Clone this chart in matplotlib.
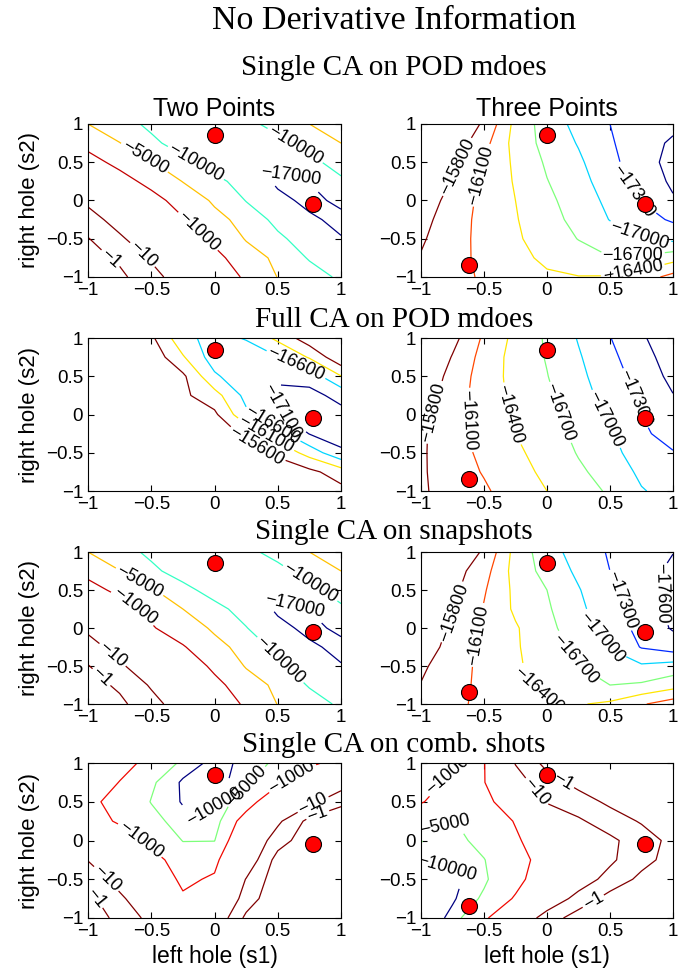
import numpy as np
import matplotlib
matplotlib.use("Agg")
import matplotlib.pyplot as plt
from matplotlib.colors import Normalize

plt.rcParams['font.family'] = ['Liberation Sans', 'DejaVu Sans']

#%% grid the objective was sampled on (rows go from top y=1 to bottom y=-1)
grid_x = [-1, -0.75, -0.5, -0.25, 0, 0.25, 0.5, 0.75, 1]
grid_y = [1, 0.75, 0.5, 0.25, 0, -0.25, -0.5, -0.75, -1]

ticks = [-1, -0.5, 0, 0.5, 1]
tick_labels = ['\u22121', '\u22120.5', '0', '0.5', '1']

main_title = 'No Derivative Information'
row_titles = ['Single CA on POD mdoes', 'Full CA on POD mdoes',
              'Single CA on snapshots', 'Single CA on comb. shots']
col_titles = ['Two Points', 'Three Points']

two_pts_x = [0, 0.78]
two_pts_y = [0.85, -0.05]
three_pts_x = [0, 0.78, -0.62]
three_pts_y = [0.85, -0.05, -0.84]

levels_single = [-17000, -10000, -5000, -1000, -10, -1]
levels_comb = [-10000, -5000, -1000, -10, -1]
levels_three = [-17600, -17300, -17000, -16700, -16400, -16100, -15800]
levels_full_two = [-17100, -16600, -16100, -15600]

#%% objective values
z_pod_two = [
    [-5000, -8100, -11200, -14000, -14800, -11700, -8100, -5000, -3200],
    [-1740, -4900, -8900, -12600, -15500, -14800, -12000, -7900, -5000],
    [-500, -1700, -4800, -8700, -12600, -15000, -15800, -11700, -7900],
    [-93, -470, -1800, -5200, -8700, -12300, -18500, -16800, -11000],
    [-16, -89, -500, -2200, -6000, -10200, -15000, -19000, -15500],
    [-4, -25, -145, -870, -3500, -7400, -11500, -15800, -19000],
    [-0.9, -7, -46, -275, -1500, -5500, -9100, -12600, -16600],
    [-0.4, -1.5, -13, -87, -590, -2700, -6600, -10500, -13200],
    [-0.16, -0.6, -4.5, -34, -230, -1400, -5200, -7800, -11000]]

z_pod_three = [
    [-15400, -15600, -15830, -16490, -16840, -17090, -17300, -17420, -17520],
    [-15350, -15600, -16000, -16510, -16800, -17020, -17270, -17460, -17650],
    [-15300, -15700, -16100, -16460, -16740, -16950, -17220, -17470, -17700],
    [-15400, -15830, -16150, -16430, -16690, -16890, -17160, -17420, -17650],
    [-15600, -15920, -16180, -16400, -16630, -16850, -17070, -17310, -17570],
    [-15700, -15960, -16190, -16380, -16590, -16790, -17010, -17180, -17340],
    [-15760, -15990, -16180, -16360, -16530, -16710, -16840, -16970, -17080],
    [-15820, -16000, -16170, -16300, -16470, -16570, -16690, -16660, -16520],
    [-15880, -16000, -16140, -16260, -16350, -16390, -16380, -16250, -16000]]

z_full_two = [
    [-14800, -15050, -15500, -16450, -16780, -16560, -15980, -15300, -14900],
    [-14600, -14900, -15250, -16050, -16850, -16900, -16620, -16050, -15200],
    [-14500, -14800, -15150, -15500, -16520, -16950, -17060, -16900, -16120],
    [-14400, -14700, -15000, -15500, -15900, -16750, -17150, -17250, -16950],
    [-14300, -14600, -14900, -15200, -15500, -16500, -17050, -17350, -17250],
    [-14200, -14500, -14750, -15000, -15300, -15700, -16400, -17120, -17350],
    [-14100, -14400, -14650, -14900, -15150, -15400, -15700, -16300, -17000],
    [-14000, -14300, -14550, -14800, -15000, -15200, -15300, -15470, -15850],
    [-13900, -14200, -14450, -14700, -14900, -15050, -15200, -15320, -15450]]

z_full_three = [
    [-15350, -15700, -16150, -16480, -16740, -17020, -17290, -17560, -17800],
    [-15400, -15820, -16210, -16510, -16720, -16970, -17230, -17480, -17750],
    [-15550, -15900, -16240, -16500, -16690, -16930, -17170, -17420, -17680],
    [-15620, -15950, -16240, -16480, -16650, -16880, -17120, -17360, -17590],
    [-15700, -15980, -16230, -16440, -16610, -16820, -17060, -17300, -17520],
    [-15750, -15990, -16200, -16400, -16570, -16770, -16960, -17240, -17430],
    [-15760, -15970, -16170, -16350, -16510, -16720, -16930, -17110, -17280],
    [-15760, -15960, -16120, -16300, -16460, -16650, -16820, -17060, -17200],
    [-15760, -15920, -16060, -16240, -16400, -16570, -16740, -16980, -17100]]

z_snap_two = [
    [-5000, -8100, -11200, -14000, -14800, -11700, -8100, -5000, -3200],
    [-1740, -4900, -8900, -12600, -15500, -14800, -12000, -7800, -5000],
    [-500, -1600, -4600, -8500, -12400, -15000, -15600, -11700, -7900],
    [-93, -420, -1600, -5000, -8500, -12300, -18300, -16800, -11000],
    [-16, -80, -850, -2600, -6000, -9800, -15000, -19000, -15500],
    [-4, -25, -145, -870, -3500, -7400, -11500, -15800, -19000],
    [-0.9, -7, -46, -275, -1500, -5500, -9100, -12600, -16600],
    [-0.4, -1.5, -13, -87, -590, -2700, -6600, -10500, -13200],
    [-0.16, -0.6, -4.5, -34, -230, -1400, -5200, -7800, -11000]]

z_snap_three = [
    [-15400, -15600, -15830, -16510, -16870, -17130, -17330, -17460, -17590],
    [-15380, -15660, -15980, -16520, -16800, -17060, -17300, -17450, -17680],
    [-15400, -15720, -16070, -16470, -16700, -16980, -17250, -17450, -17700],
    [-15450, -15760, -16120, -16450, -16660, -16930, -17200, -17420, -17680],
    [-15550, -15860, -16150, -16370, -16620, -16860, -17120, -17400, -17630],
    [-15650, -15900, -16170, -16370, -16560, -16780, -17010, -17320, -17450],
    [-15750, -15960, -16180, -16360, -16520, -16690, -16920, -16960, -16880],
    [-15810, -16000, -16170, -16330, -16460, -16600, -16700, -16660, -16520],
    [-15870, -16040, -16160, -16280, -16370, -16420, -16350, -16130, -15950]]

z_comb_two = [
    [-400, -560, -1600, -6500, -12600, -8500, -4000, -1500, -500],
    [-320, -1050, -4300, -11200, -14100, -6300, -1450, -200, -40],
    [-630, -1950, -5200, -10700, -10400, -2500, -180, -21, -1.6],
    [-400, -1300, -3600, -7600, -8900, -400, -16, -0.5, -0.25],
    [-80, -320, -1600, -5200, -5200, -125, -2.8, -0.25, -0.25],
    [-11, -80, -500, -2500, -1600, -63, -0.4, -0.2, -0.25],
    [-2.2, -25, -280, -1400, -800, -9, -0.25, -0.16, -0.2],
    [-0.5, -6.3, -70, -800, -320, -3.5, -0.16, -0.13, -0.16],
    [-0.3, -1.8, -22, -125, -80, -0.6, -0.13, -0.1, -0.13]]

z_comb_three = [
    [-630, -890, -1120, -8.9, -0.5, -0.32, -0.2, -0.16, -0.13],
    [-500, -1400, -1120, -28, -2.6, -0.5, -0.25, -0.16, -0.13],
    [-890, -2500, -2000, -220, -8, -2.8, -0.63, -0.32, -0.2],
    [-3500, -5200, -3500, -890, -110, -14, -3.2, -0.8, -0.32],
    [-4800, -7100, -3500, -1300, -320, -80, -16, -3.2, -0.5],
    [-7900, -8900, -5200, -1900, -500, -89, -15, -2.2, -0.4],
    [-10500, -12600, -5900, -1800, -280, -35, -4.5, -0.56, -0.32],
    [-15800, -11200, -4200, -830, -56, -4.5, -0.4, -0.25, -0.2],
    [-20000, -7900, -1500, -83, -3.5, -0.32, -0.2, -0.16, -0.16]]


def draw(ax, z, levels, use_log, px, py, label_xy):
    z = np.array(z, dtype=float)
    lev = np.array(levels, dtype=float)
    cols = plt.cm.jet(Normalize(lev.min(), lev.max())(lev))
    if use_log:
        field, lv = np.log10(-z), np.log10(-lev)
    else:
        field, lv = z, lev
    order = np.argsort(lv)
    cs = ax.contour(grid_x, grid_y, field, levels=lv[order],
                    colors=cols[order], linewidths=0.9)
    names = ['\u2212%d' % abs(v) for v in lev[order]]
    fmt = dict(zip(cs.levels, names))
    ax.clabel(cs, fmt=fmt, inline=True, fontsize=13, colors='k',
              manual=label_xy, inline_spacing=2)
    ax.plot(px, py, 'o', ms=11.5, mfc='red', mec='k', mew=0.8,
            zorder=5, clip_on=False)


#%% layout
fig = plt.figure(figsize=(6.78, 9.77), dpi=100)
lefts = [0.1298, 0.6209]
widths = [0.3732, 0.3717]
bottoms = [0.7165, 0.4974, 0.2794, 0.0604]
heights = [0.1566, 0.1566, 0.1556, 0.1586]

panels = [
    [(z_pod_two, levels_single, True,
      [(-0.55, 0.57), (-0.14, 0.51), (0.65, 0.75), (0.6, 0.3),
       (-0.14, -0.42), (-0.58, -0.73), (-0.83, -0.77)]),
     (z_pod_three, levels_three, False,
      [(-0.69, 0.42), (-0.52, 0.33), (0.68, 0.12), (0.71, -0.54),
       (0.68, -0.74), (0.68, -0.91)])],
    [(z_full_two, levels_full_two, False,
      [(0.636, 0.62), (0.55, 0.06), (0.44, -0.19), (0.385, -0.32),
       (0.33, -0.42)]),
     (z_full_three, levels_three, False,
      [(-0.86, 0.01), (-0.61, -0.07), (-0.28, 0.01), (0.075, 0.01),
       (0.43, -0.1), (0.68, 0.2)])],
    [(z_snap_two, levels_single, True,
      [(-0.6, 0.585), (-0.66, 0.21), (-0.82, -0.38), (-0.89, -0.64),
       (0.755, 0.585), (0.62, 0.2), (0.52, -0.42)]),
     (z_snap_three, levels_three, False,
      [(-0.72, 0.19), (-0.55, -0.09), (-0.07, -0.83), (0.19, -0.44),
       (0.42, -0.14), (0.59, 0.37), (0.9, 0.45)])],
    [(z_comb_two, levels_comb, True,
      [(0.0, 0.4), (0.28, 0.65), (0.64, 0.74), (0.78, 0.46), (0.82, 0.31),
       (-0.59, 0.0), (-0.83, -0.45), (-0.92, -0.71)]),
     (z_comb_three, levels_comb, True,
      [(-0.8, 0.85), (-0.81, 0.2), (-0.8, -0.35), (-0.1, 0.61),
       (0.1, 0.68), (0.37, -0.79)])],
]

for r in range(4):
    for c in range(2):
        ax = fig.add_axes([lefts[c], bottoms[r], widths[c], heights[r]])
        z, levels, use_log, label_xy = panels[r][c]
        if c == 0:
            draw(ax, z, levels, use_log, two_pts_x, two_pts_y, label_xy)
            ax.set_ylabel('right hole (s2)', fontsize=16)
        else:
            draw(ax, z, levels, use_log, three_pts_x, three_pts_y, label_xy)
        ax.set_xlim(-1, 1)
        ax.set_ylim(-1, 1)
        ax.set_xticks(ticks)
        ax.set_xticklabels(tick_labels)
        ax.set_yticks(ticks)
        ax.set_yticklabels(tick_labels)
        ax.tick_params(direction='in', top=True, right=True, length=4,
                       labelsize=13.5, width=0.8)
        for s in ax.spines.values():
            s.set_linewidth(0.8)
        if r == 0:
            ax.set_title(col_titles[c], fontsize=18, pad=6)
        if r == 3:
            ax.set_xlabel('left hole (s1)', fontsize=16.5)

fig.text(0.581, 0.979, main_title, family='Liberation Serif', fontsize=24.5,
         ha='center', va='center')
for y, t in zip([0.930, 0.6725, 0.4555, 0.2375], row_titles):
    fig.text(0.581, y, t, family='Liberation Serif', fontsize=21,
             ha='center', va='center')

fig.savefig('out.png', dpi=100)
